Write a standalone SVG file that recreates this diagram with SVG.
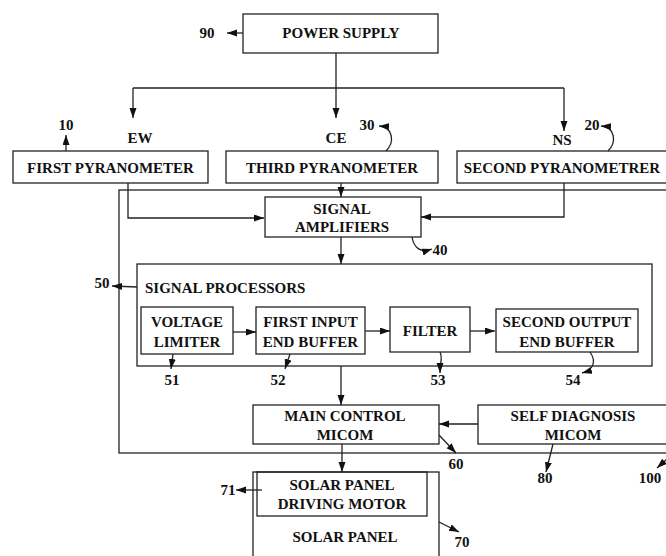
<svg xmlns="http://www.w3.org/2000/svg" width="666" height="556" viewBox="0 0 666 556">
<defs>
<style>
.bx{fill:none;stroke:#222;stroke-width:1.3}
.ln{fill:none;stroke:#222;stroke-width:1.3}
.ar{marker-end:url(#ah)}
text{font-family:"Liberation Serif","Times New Roman",serif;font-weight:bold;font-size:15px;fill:#111;text-anchor:middle}
</style>
<marker id="ah" markerUnits="userSpaceOnUse" markerWidth="11" markerHeight="8" refX="10" refY="3.5" orient="auto">
<path d="M0,0 L10,3.5 L0,7 z" fill="#111"/>
</marker>
</defs>
<rect width="666" height="556" fill="#fff"/>

<g id="outer-frame">
<rect class="bx" x="119" y="190" width="570" height="263"/>
</g>

<g id="power-supply">
<rect class="bx" x="243" y="14" width="195" height="39"/>
<text x="341" y="38">POWER SUPPLY</text>
</g>

<g id="first-pyranometer">
<rect class="bx" x="13" y="151" width="195" height="32"/>
<text x="110.5" y="173">FIRST PYRANOMETER</text>
</g>

<g id="third-pyranometer">
<rect class="bx" x="226" y="151" width="212" height="32"/>
<text x="332" y="173">THIRD PYRANOMETER</text>
</g>

<g id="second-pyranometer">
<rect class="bx" x="457" y="151" width="220" height="32"/>
<text x="562" y="173">SECOND PYRANOMETRER</text>
</g>

<g id="signal-amplifiers">
<rect class="bx" x="265" y="197" width="156" height="40"/>
<text x="342" y="214">SIGNAL</text>
<text x="342" y="232">AMPLIFIERS</text>
</g>

<g id="signal-processors">
<rect class="bx" x="137" y="264" width="515" height="102"/>
<text x="145" y="293" style="text-anchor:start">SIGNAL PROCESSORS</text>
</g>

<g id="voltage-limiter">
<rect class="bx" x="141" y="307" width="92" height="47"/>
<text x="187" y="327">VOLTAGE</text>
<text x="187" y="347">LIMITER</text>
</g>

<g id="first-input-end-buffer">
<rect class="bx" x="256" y="307" width="109" height="47"/>
<text x="310.5" y="327">FIRST INPUT</text>
<text x="310.5" y="347">END BUFFER</text>
</g>

<g id="filter">
<rect class="bx" x="390" y="307" width="80" height="45"/>
<text x="430" y="336">FILTER</text>
</g>

<g id="second-output-end-buffer">
<rect class="bx" x="496" y="309" width="142" height="43"/>
<text x="567" y="327">SECOND OUTPUT</text>
<text x="567" y="347">END BUFFER</text>
</g>

<g id="main-control-micom">
<rect class="bx" x="253" y="405" width="186" height="39"/>
<text x="345" y="421">MAIN CONTROL</text>
<text x="345" y="440">MICOM</text>
</g>

<g id="self-diagnosis-micom">
<rect class="bx" x="478" y="405" width="200" height="39"/>
<text x="573" y="421">SELF DIAGNOSIS</text>
<text x="573" y="440">MICOM</text>
</g>

<g id="solar-panel">
<rect class="bx" x="253" y="472" width="186" height="100"/>
<text x="345" y="542">SOLAR PANEL</text>
</g>

<g id="solar-panel-driving-motor">
<rect class="bx" x="257" y="472" width="170" height="44"/>
<text x="342" y="490">SOLAR PANEL</text>
<text x="342" y="509">DRIVING MOTOR</text>
</g>

<g id="labels">
<text x="207" y="38">90</text>
<text x="66" y="130">10</text>
<text x="140" y="143">EW</text>
<text x="336" y="143">CE</text>
<text x="367" y="130">30</text>
<text x="562" y="145">NS</text>
<text x="592" y="130">20</text>
<text x="440" y="255">40</text>
<text x="102" y="288">50</text>
<text x="172" y="385">51</text>
<text x="278" y="385">52</text>
<text x="438" y="385">53</text>
<text x="573" y="385">54</text>
<text x="456" y="469">60</text>
<text x="545" y="483">80</text>
<text x="650" y="483">100</text>
<text x="228" y="495">71</text>
<text x="462" y="547">70</text>
</g>

<g id="connectors">
<path class="ln ar" d="M243,33 H227"/>
<path class="ln ar" d="M336,53 V118"/>
<path class="ln" d="M133,88 H564"/>
<path class="ln ar" d="M133,88 V118"/>
<path class="ln ar" d="M564,88 V131"/>
<path class="ln ar" d="M66,151 V135"/>
<path class="ln ar" d="M386,151 C395,142 393,127 379,126"/>
<path class="ln ar" d="M608,151 C617,142 615,127 601,126"/>
<path class="ln ar" d="M128,183 V218 H264"/>
<path class="ln ar" d="M341,183 V197"/>
<path class="ln ar" d="M564,183 V217 H421"/>
<path class="ln ar" d="M412,237 C414,248 420,253 432,249"/>
<path class="ln ar" d="M341,237 V264"/>
<path class="ln ar" d="M137,287 L112,286"/>
<path class="ln ar" d="M233,332 H256"/>
<path class="ln ar" d="M365,331 H390"/>
<path class="ln ar" d="M470,331 H495"/>
<path class="ln ar" d="M173,354 L171,369"/>
<path class="ln ar" d="M290,354 L285,369"/>
<path class="ln ar" d="M440,352 C443,358 440,362 440,373"/>
<path class="ln ar" d="M590,352 C597,362 593,370 582,373"/>
<path class="ln ar" d="M341,366 V405"/>
<path class="ln ar" d="M478,424 H439"/>
<path class="ln ar" d="M439,435 L456,453"/>
<path class="ln ar" d="M553,444 L546,472"/>
<path class="ln ar" d="M668,458 L657,468"/>
<path class="ln ar" d="M342,444 V472"/>
<path class="ln ar" d="M262,490 H236"/>
<path class="ln ar" d="M439,522 L459,532"/>
</g>
</svg>
